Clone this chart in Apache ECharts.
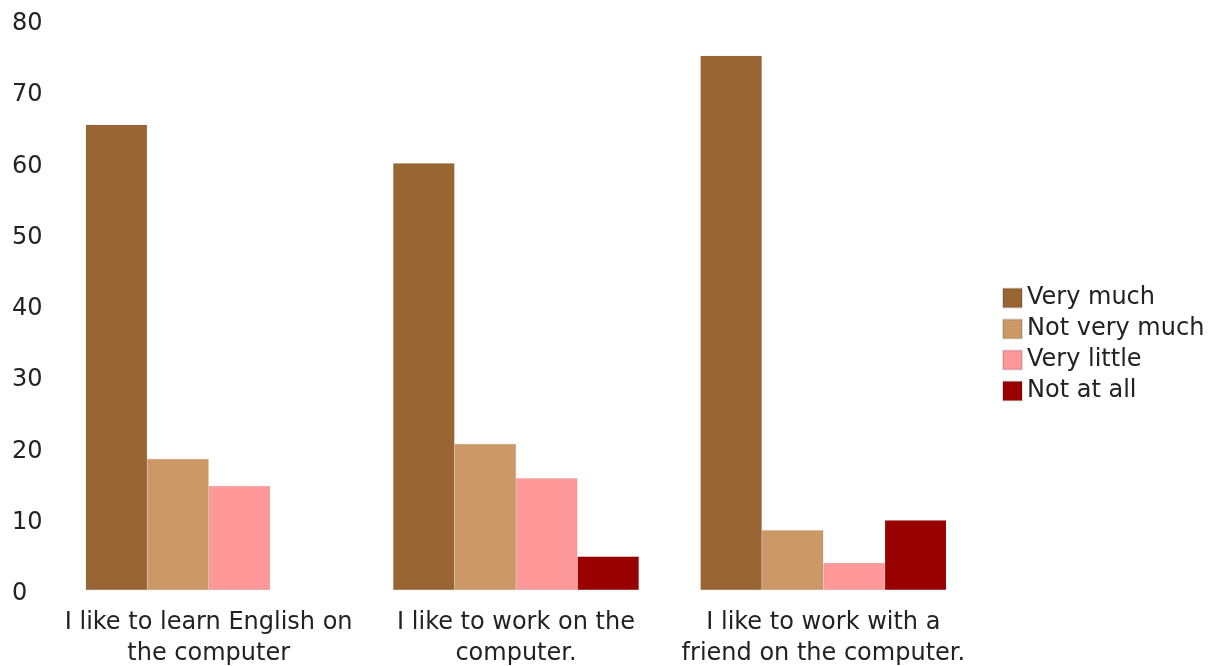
<!DOCTYPE html>
<html>
<head>
<meta charset="utf-8">
<style>html,body{margin:0;padding:0;background:#fff}#c{width:1213px;height:666px}</style>
<script src="https://cdn.jsdelivr.net/npm/echarts@6/dist/echarts.min.js"></script>
</head>
<body>
<div id="c"></div>
<script>
var categories = [
  "I like to learn English on\nthe computer",
  "I like to work on the\ncomputer.",
  "I like to work with a\nfriend on the computer."
];
var seriesNames = ["Very much", "Not very much", "Very little", "Not at all"];
var veryMuch = [65.3, 59.9, 75.0];
var notVeryMuch = [18.4, 20.5, 8.4];
var veryLittle = [14.6, 15.7, 3.8];
var notAtAll = ['-', 4.7, 9.8];
var colors = ["#996633", "#CC9966", "#FF9999", "#990000"];
var yTicks = { min: 0, max: 80, interval: 10 };

var font = "DejaVu Sans";
var chart = echarts.init(document.getElementById('c'), null, { renderer: 'canvas' });
var allData = [veryMuch, notVeryMuch, veryLittle, notAtAll];
chart.setOption({
  animation: false,
  backgroundColor: '#ffffff',
  grid: { left: 55, right: 236, top: 20, bottom: 76, containLabel: false, outerBoundsMode: 'none' },
  legend: {
    orient: 'vertical',
    left: 997,
    top: 281,
    itemWidth: 19,
    itemHeight: 19,
    itemGap: 7,
    icon: 'rect',
    data: seriesNames,
    textStyle: { fontFamily: font, fontSize: 24, color: '#222', padding: [0, 0, 0, 0] }
  },
  xAxis: {
    type: 'category',
    data: categories,
    axisLine: { show: false },
    axisTick: { show: false },
    axisLabel: { fontFamily: font, fontSize: 24, color: '#222', margin: 17, lineHeight: 31, interval: 0 }
  },
  yAxis: {
    type: 'value',
    min: yTicks.min, max: yTicks.max, interval: yTicks.interval,
    axisLine: { show: false },
    axisTick: { show: false },
    splitLine: { show: false },
    axisLabel: {
      fontFamily: font, fontSize: 24, color: '#222', align: 'left', margin: 43,
      formatter: '{v|{value}}',
      rich: { v: { fontFamily: font, fontSize: 24, color: '#222', padding: [8, 0, 0, 0] } }
    }
  },
  series: seriesNames.map(function (n, i) {
    return {
      name: n,
      type: 'bar',
      data: allData[i],
      barGap: '0%',
      barCategoryGap: '20%',
      itemStyle: { color: colors[i], borderColor: 'rgba(0,0,0,0.12)', borderWidth: 0.6 }
    };
  })
});
</script>
</body>
</html>
